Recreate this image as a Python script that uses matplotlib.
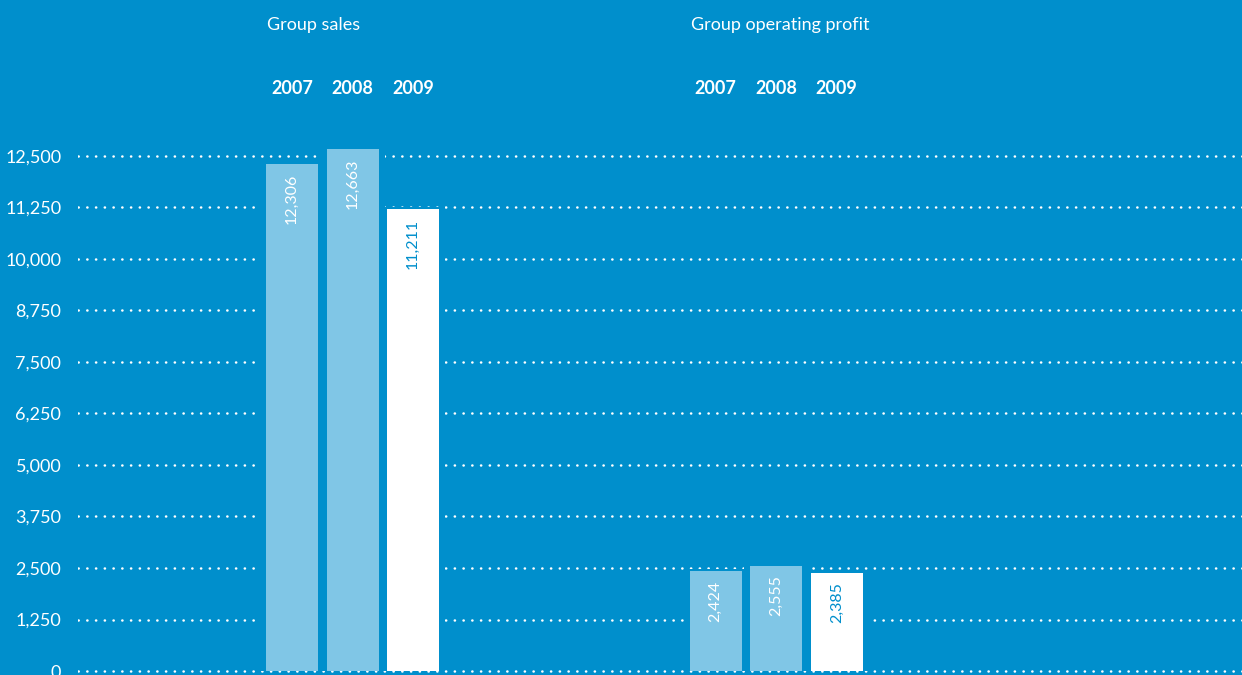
import numpy as np
import matplotlib.pyplot as plt
import matplotlib.transforms as mtransforms

# data
years = ['2007', '2008', '2009']
sales = [12306, 12663, 11211]
profit = [2424, 2555, 2385]
group_titles = ['Group sales', 'Group operating profit']
yticks = [0, 1250, 2500, 3750, 5000, 6250, 7500, 8750, 10000, 11250, 12500]

bg = '#008fcc'
light = '#80c6e6'
plt.rcParams['font.family'] = ['Lato', 'DejaVu Sans']

fig = plt.figure(figsize=(12.42, 6.75), dpi=100)
fig.patch.set_facecolor(bg)
ax = fig.add_axes([78/1242, 0, 1 - 78/1242, 1])
ax.set_facecolor(bg)

width = 0.86
groups = [(0, sales), (7, profit)]
colours = [light, light, 'white']
txt_col = ['white', 'white', bg]

for gi, (start, vals) in enumerate(groups):
    xs = start + np.arange(len(vals))
    # background-coloured bars behind to break the dotted grid around the bars
    ax.bar(xs, np.array(vals) + 60, width=width + 0.2, color=bg, zorder=2)
    ax.bar(xs, vals, width=width, color=colours, zorder=3)
    trans = mtransforms.blended_transform_factory(ax.transData, ax.transAxes)
    ax.text(xs[0] - width/2 + 0.02, 1 - 25/675, group_titles[gi], transform=trans,
            color='white', fontsize=13, ha='left', va='center')
    for i, x in enumerate(xs):
        ax.text(x, 1 - 88/675, years[i], transform=trans, color='white',
                fontsize=13, fontweight='bold', ha='center', va='center')
        ax.annotate(f"{vals[i]:,}", (x, vals[i]), xytext=(0, -7), textcoords='offset points',
                    rotation=90, ha='center', va='top', color=txt_col[i], fontsize=11.5, zorder=4)

for yv in yticks:
    ax.axhline(yv, color='white', linestyle=(0, (0.1, 3.4)), linewidth=1.8,
               dash_capstyle='round', zorder=1)

ax.set_xlim(-3.537, 15.70)
ax.set_ylim(-97, 16286)
ax.set_yticks(yticks)
ax.set_yticklabels([f"{v:,}" for v in yticks], color='white', fontsize=13)
ax.tick_params(axis='y', length=0, pad=12)
ax.set_xticks([])
for s in ax.spines.values():
    s.set_visible(False)

plt.savefig('out.png', dpi=100, facecolor=bg)
